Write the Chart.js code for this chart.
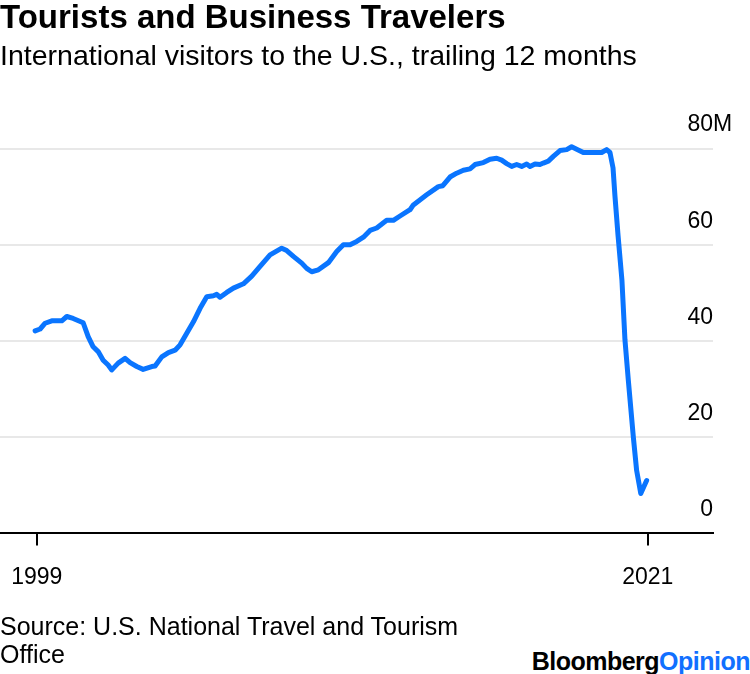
<!DOCTYPE html>
<html>
<head>
<meta charset="utf-8">
<script src="https://cdn.jsdelivr.net/npm/chart.js@4.4.1/dist/chart.umd.min.js"></script>
<style>
  html, body { margin: 0; padding: 0; background: #fff; }
  #wrap { position: relative; width: 750px; height: 674px; overflow: hidden; font-family: "Liberation Sans", Arial, sans-serif; color: #000; }
  #chartBox { position: absolute; left: 0; top: 0; width: 750px; height: 621px; }
  #source { position: absolute; left: 0; top: 612px; width: 500px; font-size: 25px; line-height: 28px; }
  #logo { position: absolute; right: 0; top: 647px; font-size: 25px; font-weight: bold; letter-spacing: -0.5px; line-height: 28px; white-space: nowrap; }
  #logo .op { color: #1170ff; }
</style>
</head>
<body>
<div id="wrap">
  <div id="chartBox"><canvas id="c"></canvas></div>
  <div id="source">Source: U.S. National Travel and Tourism Office</div>
  <div id="logo">Bloomberg<span class="op">Opinion</span></div>
</div>
<script>
const titleText = 'Tourists and Business Travelers';
const subtitleText = 'International visitors to the U.S., trailing 12 months';

const years = [1998.94, 1999.12, 1999.30, 1999.54, 1999.90, 2000.08, 2000.31, 2000.67, 2000.85, 2001.03,
  2001.21, 2001.39, 2001.57, 2001.70, 2001.93, 2002.18, 2002.36, 2002.60, 2002.83, 2003.14,
  2003.26, 2003.50, 2003.74, 2003.98, 2004.16, 2004.40, 2004.64, 2004.88, 2005.12, 2005.36,
  2005.48, 2005.60, 2005.84, 2006.08, 2006.44, 2006.74, 2007.04, 2007.40, 2007.82, 2008.00,
  2008.24, 2008.54, 2008.72, 2008.90, 2009.14, 2009.50, 2009.80, 2010.04, 2010.28, 2010.52,
  2010.76, 2011.00, 2011.24, 2011.60, 2011.84, 2012.08, 2012.44, 2012.56, 2013.04, 2013.46,
  2013.62, 2013.88, 2014.12, 2014.36, 2014.60, 2014.78, 2015.08, 2015.32, 2015.56, 2015.74,
  2015.92, 2016.10, 2016.28, 2016.46, 2016.64, 2016.76, 2016.94, 2017.12, 2017.24, 2017.42,
  2017.60, 2017.84, 2018.08, 2018.26, 2018.44, 2018.68, 2018.92, 2019.34, 2019.52, 2019.64,
  2019.75, 2019.82, 2019.93, 2020.07, 2020.18, 2020.30, 2020.48, 2020.60, 2020.75, 2020.96];

const visitors = [42.1, 42.5, 43.7, 44.2, 44.2, 45.1, 44.7, 43.8, 40.9, 38.8,
  37.8, 36.0, 35.0, 34.0, 35.4, 36.4, 35.5, 34.7, 34.1, 34.7,
  34.8, 36.7, 37.6, 38.1, 39.2, 41.6, 44.0, 46.8, 49.2, 49.4,
  49.7, 49.1, 50.1, 51.0, 51.9, 53.5, 55.5, 57.9, 59.3, 58.8,
  57.6, 56.2, 55.1, 54.4, 54.8, 56.3, 58.6, 60.0, 60.0, 60.7,
  61.6, 63.0, 63.5, 65.1, 65.1, 66.0, 67.3, 68.3, 70.4, 72.1,
  72.3, 74.1, 74.9, 75.5, 75.8, 76.7, 77.1, 77.8, 78.0, 77.6,
  76.9, 76.3, 76.7, 76.3, 76.8, 76.3, 76.8, 76.7, 77.0, 77.4,
  78.4, 79.6, 79.8, 80.4, 79.9, 79.2, 79.2, 79.2, 79.8, 79.2,
  76.0, 70.1, 62.0, 52.7, 40.2, 31.9, 20.1, 13.1, 8.3, 11.0];

const xTickYears = [1999, 2021];
const yTickValues = [0, 20, 40, 60, 80];
const yUnitSuffix = 'M';

const FONT = '"Liberation Sans", Arial, sans-serif';
const LINE_BLUE = '#0a75ff';
const Y_LABEL_OFFSET = -23.5;
const TICK_FONT_SIZE = 23;

const unitSuffixPlugin = {
  id: 'unitSuffix',
  afterDraw(chart) {
    const ys = chart.scales.y;
    const top = yTickValues[yTickValues.length - 1];
    const py = ys.getPixelForValue(top) + Y_LABEL_OFFSET;
    const ctx = chart.ctx;
    ctx.save();
    ctx.font = TICK_FONT_SIZE + 'px ' + FONT;
    ctx.fillStyle = '#000';
    ctx.textAlign = 'left';
    ctx.textBaseline = 'middle';
    ctx.fillText(yUnitSuffix, chart.chartArea.right, py);
    ctx.restore();
  }
};

new Chart(document.getElementById('c'), {
  type: 'line',
  data: {
    datasets: [{
      data: years.map((x, i) => ({ x: x, y: visitors[i] })),
      borderColor: LINE_BLUE,
      borderWidth: 5,
      pointRadius: 0,
      tension: 0,
      fill: false,
      clip: false,
      borderJoinStyle: 'round',
      borderCapStyle: 'round'
    }]
  },
  options: {
    responsive: true,
    maintainAspectRatio: false,
    animation: false,
    events: [],
    layout: { padding: { left: 0, right: 37, top: 0, bottom: 12 } },
    plugins: {
      legend: { display: false },
      tooltip: { enabled: false },
      title: {
        display: true, text: titleText, align: 'start', color: '#000',
        font: { family: FONT, size: 33, weight: 'bold', lineHeight: 1.1 },
        padding: { top: 1, bottom: 4 }
      },
      subtitle: {
        display: true, text: subtitleText, align: 'start', color: '#000',
        font: { family: FONT, size: 28.5, weight: 'normal', lineHeight: 1.1 },
        padding: { top: 0, bottom: 76 }
      }
    },
    scales: {
      x: {
        type: 'linear',
        min: 1997.675,
        max: 2023.35,
        afterBuildTicks: s => { s.ticks = xTickYears.map(v => ({ value: v })); },
        afterFit: s => { s.paddingLeft = 0; s.paddingRight = 0; },
        ticks: {
          color: '#000', font: { family: FONT, size: TICK_FONT_SIZE },
          padding: 18, maxRotation: 0, autoSkip: false,
          callback: v => String(v)
        },
        grid: { drawOnChartArea: false, drawTicks: true, tickLength: 12, color: '#000', lineWidth: 2 },
        border: { display: true, color: '#000', width: 2 }
      },
      y: {
        position: 'right',
        min: 0,
        max: 80,
        afterBuildTicks: s => { s.ticks = yTickValues.map(v => ({ value: v })); },
        ticks: {
          mirror: true, padding: 0, labelOffset: Y_LABEL_OFFSET,
          color: '#000', font: { family: FONT, size: TICK_FONT_SIZE },
          callback: v => String(v)
        },
        grid: {
          drawTicks: false, lineWidth: 2,
          color: ctx => (ctx.tick && ctx.tick.value === 0) ? 'rgba(0,0,0,0)' : '#e8e8e8'
        },
        border: { display: false }
      }
    }
  },
  plugins: [unitSuffixPlugin]
});
</script>
</body>
</html>
